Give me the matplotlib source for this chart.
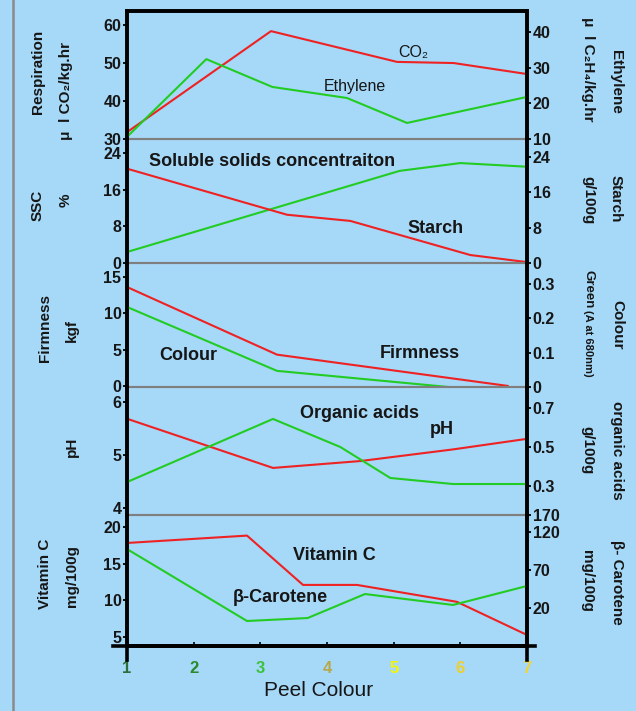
import matplotlib
matplotlib.use("Agg")
import matplotlib.pyplot as plt
from matplotlib.lines import Line2D

plt.rcParams['font.family'] = ['Liberation Sans', 'DejaVu Sans']

# ---------------- data ----------------
peel_ticks = [1, 2, 3, 4, 5, 6, 7]
peel_labels = ['1', '2', '3', '4', '5', '6', '7']
peel_colors = ['#2f6e3a', '#2b8a2b', '#3cc13c', '#b8a84a', '#f5f500', '#f0cf2a', '#f0d43a']

co2_x = [1.0, 3.16, 5.05, 5.9, 7.0]
co2 = [31.8, 58.4, 50.3, 50.0, 47.1]
eth_x = [1.0, 2.19, 3.18, 4.3, 5.2, 7.0]
ethylene = [10.6, 32.4, 24.6, 21.5, 14.5, 21.8]

ssc_x = [1.0, 5.09, 6.0, 7.0]
ssc = [2.4, 20.1, 21.8, 21.0]
starch_x = [1.0, 3.4, 4.35, 6.15, 7.0]
starch = [21.3, 10.9, 9.5, 1.8, 0.2]

firm_x = [1.0, 3.25, 6.71]
firmness = [13.6, 4.3, 0.0]
colour_x = [1.0, 3.25, 5.82]
colour = [0.233, 0.047, 0.0]

ph_x = [1.0, 3.19, 4.5, 5.89, 7.0]
ph = [5.69, 4.76, 4.89, 5.11, 5.31]
acid_x = [1.0, 3.19, 4.2, 4.95, 5.89, 7.0]
acids = [0.32, 0.644, 0.5, 0.341, 0.31, 0.31]

vitc_x = [1.0, 2.8, 3.64, 4.45, 5.95, 7.0]
vitc = [17.8, 18.8, 12.1, 12.1, 9.8, 5.3]
bc_x = [1.0, 2.8, 3.71, 4.57, 5.89, 7.0]
bcarotene = [97.6, 2.9, 6.8, 38.4, 24.0, 49.0]

left_ticks = [[30, 40, 50, 60], [0, 8, 16, 24], [0, 5, 10, 15], [4, 5, 6], [5, 10, 15, 20]]
left_ticklabels = [['30', '40', '50', '60'], ['0', '8', '16', '24'], ['0', '5', '10', '15'],
                   ['4', '5', '6'], ['5', '10', '15', '20']]
right_ticks = [[10, 20, 30, 40], [0, 8, 16, 24], [0, 0.1, 0.2, 0.3], [0.3, 0.5, 0.7], [20, 70, 120, 142.4]]
right_ticklabels = [['10', '20', '30', '40'], ['0', '8', '16', '24'], ['0', '0.1', '0.2', '0.3'],
                    ['0.3', '0.5', '0.7'], ['20', '70', '120', '170']]

# ---------------- figure ----------------
BG = '#a6d8f8'
RED = '#ee2222'
GREEN = '#22cc22'
TXT = '#161616'
W, H = 636, 711
fig = plt.figure(figsize=(W / 100, H / 100), dpi=100, facecolor=BG)

xl, xr = 127, 527
panels_px = [(11, 139), (139, 263), (263, 387), (387, 515), (515, 646)]
left_lims = [(30, 63.7), (0, 27.05), (-0.15, 16.9), (3.87, 6.29), (3.8, 21.6)]
right_lims = [(10, 45.9), (0, 28.0), (0, 0.361), (0.151, 0.808), (-30, 142.4)]

axes = []
for i, (yt, yb) in enumerate(panels_px):
    ax = fig.add_axes([xl / W, 1 - yb / H, (xr - xl) / W, (yb - yt) / H])
    ax.set_facecolor('none')
    ax2 = ax.twinx()
    ax2.set_facecolor('none')
    ax.set_xlim(1, 7)
    ax.set_ylim(*left_lims[i])
    ax2.set_ylim(*right_lims[i])
    for a in (ax, ax2):
        for s in ['left', 'right']:
            a.spines[s].set_color('black')
            a.spines[s].set_linewidth(2.6)
        a.spines['top'].set_visible(i == 0)
        a.spines['top'].set_linewidth(2.6)
        a.spines['top'].set_color('black')
        if i < 4:
            a.spines['bottom'].set_color('#7f7f7f')
            a.spines['bottom'].set_linewidth(1.5)
        else:
            a.spines['bottom'].set_color('black')
            a.spines['bottom'].set_linewidth(2.6)
    ax.set_yticks(left_ticks[i], labels=left_ticklabels[i])
    ax2.set_yticks(right_ticks[i], labels=right_ticklabels[i])
    for a in (ax, ax2):
        a.tick_params(axis='y', direction='out', length=3, width=1.3, pad=1,
                      labelsize=11.5, labelcolor=TXT)
        for lab in a.get_yticklabels():
            lab.set_fontweight('bold')
    if i < 4:
        ax.set_xticks([])
    axes.append((ax, ax2))

# lines
a, b = axes[0]
a.plot(co2_x, co2, color=RED, lw=1.5, clip_on=False)
b.plot(eth_x, ethylene, color=GREEN, lw=1.5, clip_on=False)
a, b = axes[1]
a.plot(ssc_x, ssc, color=GREEN, lw=1.5, clip_on=False)
b.plot(starch_x, starch, color=RED, lw=1.5, clip_on=False)
a, b = axes[2]
a.plot(firm_x, firmness, color=RED, lw=1.5, clip_on=False)
b.plot(colour_x, colour, color=GREEN, lw=1.5, clip_on=False)
a, b = axes[3]
a.plot(ph_x, ph, color=RED, lw=1.5, clip_on=False)
b.plot(acid_x, acids, color=GREEN, lw=1.5, clip_on=False)
a, b = axes[4]
a.plot(vitc_x, vitc, color=RED, lw=1.5, clip_on=False)
b.plot(bc_x, bcarotene, color=GREEN, lw=1.5, clip_on=False)

# x axis
ax5 = axes[4][0]
ax5.set_xticks(peel_ticks, labels=peel_labels)
ax5.tick_params(axis='x', direction='in', length=3, width=1.2, pad=11, labelsize=12)
for lab, c in zip(ax5.get_xticklabels(), peel_colors):
    lab.set_color(c)
    lab.set_fontweight('bold')

def fx(px):
    return px / W

def fy(py):
    return 1 - py / H

# extended x-axis line and spine stubs
fig.add_artist(Line2D([fx(113), fx(535)], [fy(646), fy(646)], color='black', lw=2.6))
fig.add_artist(Line2D([fx(127), fx(127)], [fy(646), fy(660)], color='black', lw=2.6))
fig.add_artist(Line2D([fx(527), fx(527)], [fy(646), fy(660)], color='black', lw=2.6))
# gray vertical line at left
fig.add_artist(Line2D([fx(13), fx(13)], [0, 1], color='#8a8a8a', lw=1.8))

fig.text(fx(319), fy(691), 'Peel Colour', ha='center', va='center', fontsize=15, color=TXT)

# in-plot labels
def lab(x, y, s, size=13, weight='bold'):
    fig.text(fx(x), fy(y), s, ha='center', va='center', fontsize=size,
             fontweight=weight, color=TXT)

lab(413, 52, 'CO₂', 11.5, 'normal')
lab(355, 86, 'Ethylene', 11.5, 'normal')
lab(272, 162, 'Soluble solids concentraiton')
lab(436, 228, 'Starch')
lab(188, 356, 'Colour')
lab(420, 354, 'Firmness')
lab(360, 414, 'Organic acids')
lab(442, 430, 'pH')
lab(334, 556, 'Vitamin C')
lab(280, 598, 'β-Carotene')

# axis titles
def vlab(x, y, s, size=11, rot=90, va='center'):
    fig.text(fx(x), fy(y), s, ha='center', va=va, rotation=rot, fontsize=size,
             fontweight='bold', color=TXT)

vlab(38, 72, 'Respiration')
vlab(66, 91, 'μ  l CO₂/kg.hr')
vlab(38, 205, 'SSC')
vlab(66, 200, '%')
vlab(45, 328, 'Firmness')
vlab(72, 331, 'kgf')
vlab(72, 447, 'pH')
vlab(45, 574, 'Vitamin C')
vlab(72, 576, 'mg/100g')

vlab(588, 69, 'μ  l C₂H₄/kg.hr', rot=-90)
vlab(616, 82, 'Ethylene', rot=-90)
vlab(588, 200, 'g/100g', rot=-90)
vlab(616, 199, 'Starch', rot=-90)
fig.text(fx(588), fy(270), 'Green', ha='center', va='top', rotation=-90,
         fontsize=9.5, fontweight='bold', color=TXT)
fig.text(fx(588), fy(310), '(A at 680nm)', ha='center', va='top', rotation=-90,
         fontsize=8, fontweight='bold', color=TXT)
vlab(617, 325, 'Colour', rot=-90)
vlab(587, 450, 'g/100g', rot=-90)
vlab(617, 450, 'organic acids', rot=-90)
vlab(587, 581, 'mg/100g', rot=-90)
vlab(617, 582, 'β- Carotene', rot=-90)

fig.savefig('out.png', dpi=100, facecolor=BG)
